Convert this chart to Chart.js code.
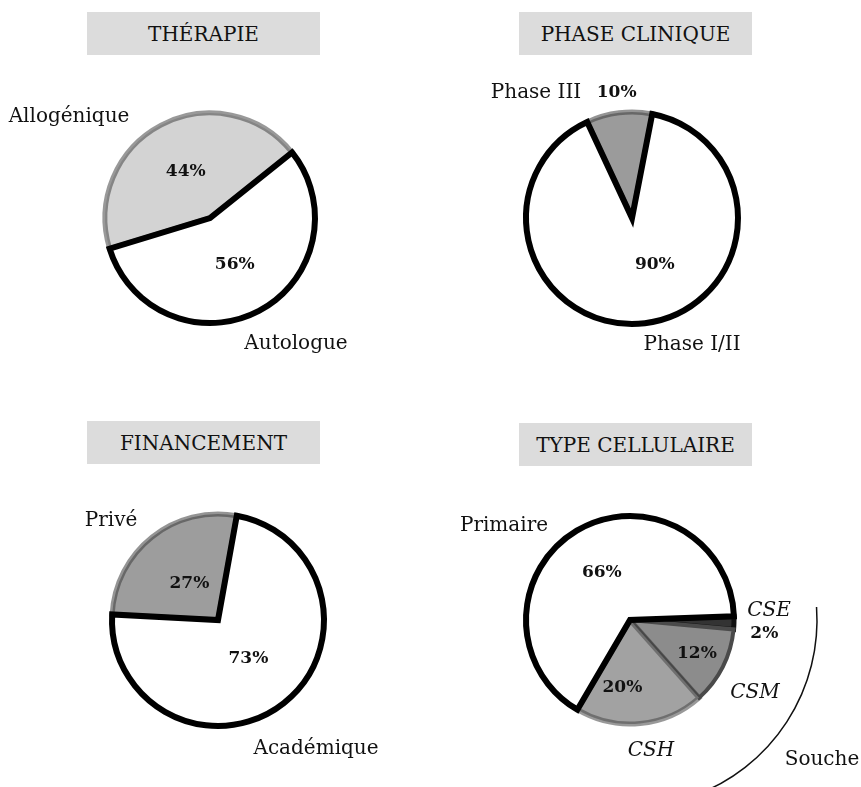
<!DOCTYPE html>
<html lang="fr">
<head>
<meta charset="utf-8">
<title>Essais cliniques — répartition</title>
<script src="https://cdn.jsdelivr.net/npm/chart.js@4.4.1/dist/chart.umd.min.js"></script>
<style>
  html, body { margin: 0; padding: 0; background: #fff; overflow: hidden; }
  body { width: 861px; height: 787px; position: relative; font-family: "DejaVu Serif", serif; }
  .title-box {
    position: absolute; width: 233px; height: 43px; background: #dcdcdc;
    display: flex; align-items: center; justify-content: center;
    font-size: 20px; color: #111;
  }
  canvas { position: absolute; }
</style>
</head>
<body>

<div class="title-box" style="left:87px; top:12px;">THÉRAPIE</div>
<div class="title-box" style="left:519px; top:12px;">PHASE CLINIQUE</div>
<div class="title-box" style="left:87px; top:421px;">FINANCEMENT</div>
<div class="title-box" style="left:519px; top:423px;">TYPE CELLULAIRE</div>

<canvas id="pieTherapie" width="480" height="440"></canvas>
<canvas id="piePhase" width="480" height="440"></canvas>
<canvas id="pieFinancement" width="480" height="440"></canvas>
<canvas id="pieCellule" width="480" height="440"></canvas>

<script>
  // ---- Data (percentages) ----
  const therapieLabels = ["Allogénique", "Autologue"];
  const therapieValues = [44, 56];

  const phaseLabels = ["Phase III", "Phase I/II"];
  const phaseValues = [10, 90];

  const financementLabels = ["Privé", "Académique"];
  const financementValues = [27, 73];

  const celluleLabels = ["CSE", "CSM", "CSH", "Primaire"];
  const celluleValues = [2, 12, 20, 66];

  // ---- Canvas geometry: pie centre on the page ----
  const CANVAS_W = 480, CANVAS_H = 440;

  // Draws the percentages (from arc geometry) and the category labels
  const pieLabelsPlugin = {
    id: "pieLabels",
    afterDatasetsDraw(chart, args, opts) {
      const ctx = chart.ctx;
      const meta = chart.getDatasetMeta(0);
      const values = chart.data.datasets[0].data;
      const arc0 = meta.data[0];
      const cx = arc0.x, cy = arc0.y;
      ctx.save();
      ctx.fillStyle = "#111";
      ctx.textAlign = "center";
      ctx.textBaseline = "middle";

      // percentages
      ctx.font = 'bold 17px "DejaVu Serif"';
      meta.data.forEach((arc, i) => {
        const p = opts.pct[i];
        const mid = (arc.startAngle + arc.endAngle) / 2 + (p.nudge || 0) * Math.PI / 180;
        ctx.fillText(values[i] + "%", cx + Math.cos(mid) * p.dist, cy + Math.sin(mid) * p.dist);
      });

      // category labels
      opts.names.forEach((n) => {
        ctx.font = (n.italic ? "italic " : "") + '20px "DejaVu Serif"';
        ctx.fillText(n.text, cx + n.dx, cy + n.dy);
      });

      // bracket arc (Souche)
      if (opts.bracket) {
        const b = opts.bracket;
        ctx.strokeStyle = "#111";
        ctx.lineWidth = 1.5;
        ctx.beginPath();
        ctx.arc(cx, cy, b.r, (b.from - 90) * Math.PI / 180, (b.to - 90) * Math.PI / 180);
        ctx.stroke();
      }
      ctx.restore();
    }
  };

  function makePie(id, centre, labels, values, look, labelOpts) {
    const canvas = document.getElementById(id);
    canvas.style.left = (centre[0] - CANVAS_W / 2) + "px";
    canvas.style.top = (centre[1] - CANVAS_H / 2) + "px";
    return new Chart(canvas, {
      type: "pie",
      data: {
        labels,
        datasets: [{
          data: values,
          backgroundColor: look.fill,
          borderColor: look.border,
          borderWidth: look.width,
          borderJoinStyle: "miter",
        }],
      },
      options: {
        responsive: false,
        animation: false,
        events: [],
        radius: look.radius,
        rotation: look.rotation,
        layout: { padding: 0 },
        plugins: {
          legend: { display: false },
          tooltip: { enabled: false },
          pieLabels: labelOpts,
        },
      },
      plugins: [pieLabelsPlugin],
    });
  }

  makePie("pieTherapie", [210, 218], therapieLabels, therapieValues, {
    fill: ["#d3d3d3", "#ffffff"],
    border: ["rgba(70,70,70,0.55)", "#000"],
    width: [5, 6],
    radius: 105,
    rotation: 253,
  }, {
    pct: [{ dist: 52 }, { dist: 53 }],
    names: [
      { text: "Allogénique", dx: -141, dy: -101 },
      { text: "Autologue", dx: 86, dy: 126 },
    ],
  });

  makePie("piePhase", [632, 218], phaseLabels, phaseValues, {
    fill: ["#9b9b9b", "#ffffff"],
    border: ["rgba(60,60,60,0.55)", "#000"],
    width: [5, 6],
    radius: 106,
    rotation: -25,
  }, {
    pct: [{ dist: 126 }, { dist: 52, nudge: -19 }],
    names: [
      { text: "Phase III", dx: -96, dy: -125 },
      { text: "Phase I/II", dx: 60, dy: 127 },
    ],
  });

  makePie("pieFinancement", [218, 620], financementLabels, financementValues, {
    fill: ["#9d9d9d", "#ffffff"],
    border: ["rgba(60,60,60,0.55)", "#000"],
    width: [5, 6],
    radius: 106,
    rotation: 273,
  }, {
    pct: [{ dist: 46 }, { dist: 49 }],
    names: [
      { text: "Privé", dx: -107, dy: -99 },
      { text: "Académique", dx: 98, dy: 129 },
    ],
  });

  makePie("pieCellule", [630, 620], celluleLabels, celluleValues, {
    fill: ["#333333", "#8c8c8c", "#a2a2a2", "#ffffff"],
    border: ["#111", "#4a4a4a", "rgba(70,70,70,0.55)", "#000"],
    width: [5, 4, 5, 6],
    radius: 104,
    rotation: 88,
  }, {
    pct: [{ dist: 135, nudge: 4 }, { dist: 75 }, { dist: 68, nudge: 12 }, { dist: 55 }],
    names: [
      { text: "CSE", dx: 139, dy: -9, italic: true },
      { text: "CSM", dx: 125, dy: 73, italic: true },
      { text: "CSH", dx: 21, dy: 131, italic: true },
      { text: "Primaire", dx: -126, dy: -94 },
      { text: "Souche", dx: 192, dy: 140 },
    ],
    bracket: { r: 187, from: 86, to: 160 },
  });
</script>
</body>
</html>
